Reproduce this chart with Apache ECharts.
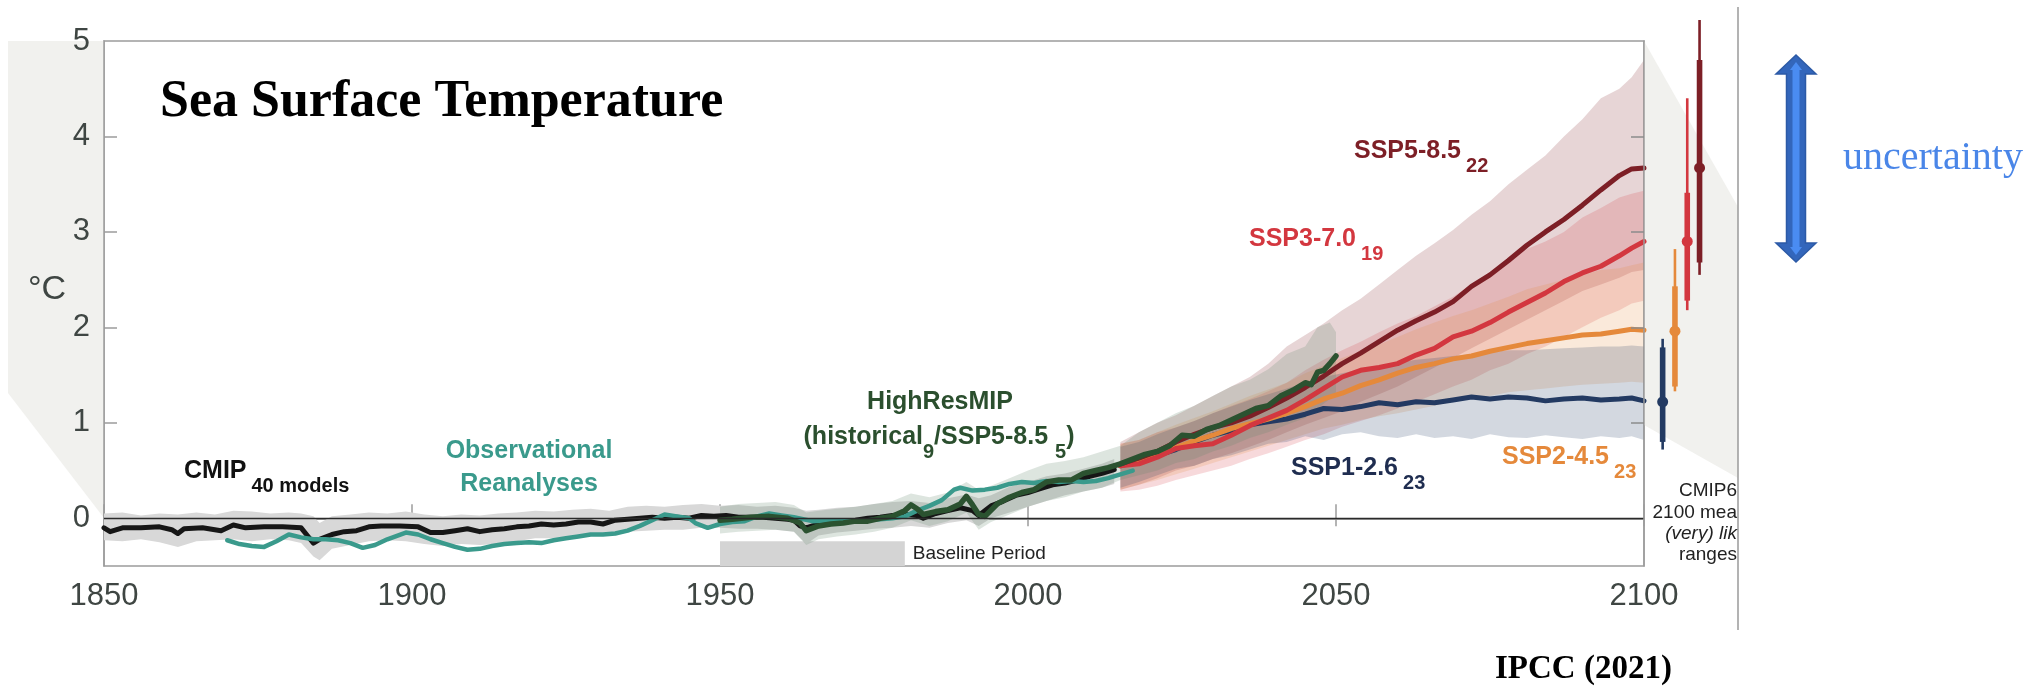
<!DOCTYPE html>
<html>
	<head>
		<meta charset="UTF-8">
		<title>Sea Surface Temperature</title>
		<script src="https://cdn.jsdelivr.net/npm/echarts@6/dist/echarts.min.js"></script>
		<style>
			body { margin: 0; background: #fff; }
			#sst { width: 2044px; height: 691px; }
		</style>
	</head>
	<body>
		<div id="sst"></div>
		<script>
			// axis ticks
			var xTicks = [1850, 1900, 1950, 2000, 2050, 2100];
			var yTicks = [0, 1, 2, 3, 4, 5];

			// CMIP6 historical multi-model mean and spread
			var cmipYears = [1850,1851,1853,1856,1859,1861,1862,1863,1866,1869,1871,1873,1876,1879,1882,1883,1884,1885,1887,1889,1891,1893,1895,1898,1901,1903,1905,1907,1909,1911,1913,1915,1917,1919,1921,1923,1925,1927,1929,1931,1933,1935,1937,1939,1941,1943,1945,1947,1949,1951,1953,1955,1957,1959,1961,1962,1963,1964,1966,1968,1970,1972,1974,1976,1978,1980,1982,1983,1985,1987,1989,1991,1992,1994,1996,1998,2000,2002,2004,2006,2008,2010,2012,2014];
			var cmipMean = [-0.10,-0.14,-0.10,-0.10,-0.09,-0.12,-0.16,-0.11,-0.10,-0.13,-0.07,-0.10,-0.09,-0.09,-0.10,-0.18,-0.26,-0.22,-0.17,-0.14,-0.13,-0.09,-0.08,-0.08,-0.09,-0.15,-0.15,-0.13,-0.11,-0.14,-0.12,-0.11,-0.09,-0.08,-0.06,-0.07,-0.06,-0.04,-0.04,-0.06,-0.02,-0.01,0.00,0.01,0.00,0.01,0.00,0.03,0.02,0.03,0.01,0.01,0.01,0.00,-0.01,-0.02,-0.08,-0.10,-0.06,-0.04,-0.03,-0.02,0.00,0.01,0.03,0.04,0.03,0.00,0.05,0.08,0.11,0.08,0.03,0.13,0.18,0.24,0.27,0.31,0.35,0.37,0.40,0.44,0.47,0.51];
			var cmipBandYears = [1850,1853,1856,1859,1862,1865,1868,1871,1874,1877,1880,1882,1884,1885,1887,1890,1893,1896,1899,1902,1905,1908,1911,1914,1917,1920,1923,1926,1929,1932,1935,1938,1941,1944,1947,1950,1953,1956,1959,1962,1964,1966,1969,1972,1975,1978,1981,1984,1987,1990,1992,1994,1997,2000,2003,2006,2009,2012,2014];
			var cmipBandHi = [0.05,0.06,0.03,0.05,0.04,0.06,0.04,0.08,0.07,0.05,0.06,0.05,0.02,-0.05,0.02,0.04,0.06,0.05,0.07,0.04,0.02,0.04,0.03,0.05,0.06,0.08,0.07,0.09,0.10,0.08,0.12,0.13,0.12,0.14,0.15,0.13,0.14,0.12,0.13,0.11,0.08,0.09,0.11,0.12,0.15,0.17,0.18,0.16,0.21,0.25,0.21,0.24,0.33,0.38,0.44,0.47,0.52,0.57,0.62];
			var cmipBandLo = [-0.23,-0.24,-0.22,-0.25,-0.30,-0.24,-0.23,-0.22,-0.24,-0.22,-0.23,-0.26,-0.40,-0.44,-0.32,-0.28,-0.24,-0.23,-0.24,-0.27,-0.29,-0.27,-0.28,-0.27,-0.24,-0.21,-0.21,-0.19,-0.17,-0.18,-0.14,-0.13,-0.12,-0.12,-0.10,-0.10,-0.11,-0.11,-0.12,-0.14,-0.27,-0.18,-0.15,-0.13,-0.11,-0.10,-0.08,-0.10,-0.05,-0.02,-0.08,0.00,0.06,0.12,0.18,0.24,0.28,0.32,0.36];

			// observational reanalyses
			var obsYears = [1870,1872,1874,1876,1878,1880,1882,1884,1886,1888,1890,1892,1894,1896,1899,1901,1903,1905,1907,1909,1911,1913,1915,1917,1919,1921,1923,1925,1927,1929,1931,1933,1935,1937,1939,1941,1943,1945,1946,1948,1950,1952,1954,1956,1958,1960,1962,1965,1968,1970,1972,1974,1976,1978,1980,1982,1984,1986,1988,1989,1991,1993,1995,1997,1999,2001,2003,2005,2007,2009,2011,2013,2015,2017];
			var obsMean = [-0.23,-0.27,-0.29,-0.30,-0.24,-0.17,-0.20,-0.22,-0.22,-0.23,-0.26,-0.31,-0.28,-0.22,-0.15,-0.17,-0.22,-0.26,-0.30,-0.33,-0.32,-0.29,-0.27,-0.26,-0.25,-0.26,-0.23,-0.21,-0.19,-0.17,-0.17,-0.16,-0.13,-0.08,-0.02,0.04,0.02,0.00,-0.05,-0.10,-0.06,-0.04,-0.03,0.02,0.05,0.03,0.01,-0.03,-0.02,-0.03,-0.03,-0.02,-0.01,0.00,0.02,0.08,0.13,0.19,0.30,0.32,0.29,0.30,0.32,0.36,0.38,0.37,0.39,0.38,0.39,0.38,0.39,0.42,0.46,0.50];

			// HighResMIP historical / SSP5-8.5
			var hrYears = [1950,1952,1955,1958,1961,1963,1964,1966,1968,1970,1972,1974,1976,1978,1980,1981,1982,1983,1985,1987,1989,1990,1991,1992,1993,1995,1997,1999,2001,2003,2005,2007,2009,2011,2013,2015,2017,2019,2021,2023,2025,2027,2029,2031,2033,2035,2037,2039,2041,2043,2045,2046,2047,2048,2049,2050];
			var hrMean = [-0.02,-0.01,0.01,0.02,0.00,-0.05,-0.13,-0.08,-0.06,-0.05,-0.03,-0.03,0.00,0.02,0.08,0.14,0.10,0.04,0.07,0.09,0.15,0.23,0.14,0.04,0.02,0.15,0.22,0.27,0.30,0.38,0.40,0.40,0.47,0.50,0.53,0.57,0.62,0.67,0.70,0.76,0.87,0.86,0.93,0.97,1.03,1.09,1.15,1.18,1.28,1.34,1.42,1.40,1.53,1.55,1.62,1.70];
			var hrBandYears = [1950,1953,1956,1959,1962,1964,1966,1969,1972,1975,1978,1981,1984,1987,1990,1992,1994,1997,2000,2003,2006,2009,2012,2015,2018,2021,2024,2027,2030,2033,2036,2039,2042,2045,2047,2049,2050];
			var hrBandHi = [0.12,0.15,0.16,0.17,0.14,0.06,0.08,0.10,0.12,0.15,0.18,0.26,0.22,0.27,0.38,0.30,0.34,0.42,0.50,0.57,0.60,0.64,0.70,0.76,0.90,1.00,1.10,1.18,1.28,1.38,1.45,1.56,1.72,1.80,2.00,2.05,1.95];
			var hrBandLo = [-0.16,-0.14,-0.13,-0.12,-0.14,-0.28,-0.22,-0.19,-0.17,-0.14,-0.10,-0.02,-0.08,-0.03,0.06,-0.12,-0.04,0.04,0.12,0.18,0.22,0.28,0.32,0.40,0.45,0.50,0.58,0.62,0.70,0.76,0.84,0.90,0.98,1.05,1.15,1.25,1.32];

			// SSP projections 2015-2100
			var sspYears = [2015,2018,2021,2024,2027,2030,2033,2036,2039,2042,2045,2048,2051,2054,2057,2060,2063,2066,2069,2072,2075,2078,2081,2084,2087,2090,2093,2096,2098,2100];
			var ssp585 = [0.57,0.63,0.70,0.80,0.88,0.95,1.00,1.07,1.16,1.26,1.37,1.49,1.62,1.73,1.85,1.97,2.07,2.16,2.27,2.43,2.55,2.70,2.86,3.00,3.13,3.28,3.44,3.59,3.66,3.67];
			var ssp585Hi = [0.80,0.90,1.00,1.08,1.18,1.28,1.38,1.48,1.62,1.80,1.92,2.04,2.18,2.30,2.45,2.60,2.75,2.88,3.02,3.18,3.32,3.50,3.65,3.80,4.00,4.18,4.40,4.50,4.62,4.80];
			var ssp585Lo = [0.30,0.35,0.42,0.50,0.55,0.62,0.68,0.75,0.82,0.90,0.98,1.05,1.12,1.22,1.30,1.38,1.48,1.58,1.68,1.78,1.88,1.98,2.08,2.18,2.28,2.38,2.45,2.52,2.58,2.60];
			var ssp370 = [0.55,0.57,0.64,0.73,0.76,0.78,0.87,0.97,1.05,1.13,1.24,1.36,1.48,1.55,1.58,1.62,1.71,1.78,1.90,1.96,2.05,2.16,2.26,2.36,2.48,2.57,2.64,2.75,2.83,2.90];
			var ssp370Hi = [0.78,0.82,0.90,0.95,1.02,1.10,1.18,1.25,1.33,1.42,1.55,1.66,1.76,1.85,1.95,2.04,2.12,2.22,2.32,2.45,2.58,2.72,2.82,2.90,3.00,3.15,3.25,3.36,3.40,3.43];
			var ssp370Lo = [0.28,0.30,0.34,0.40,0.45,0.50,0.55,0.62,0.68,0.75,0.82,0.88,0.96,1.02,1.08,1.15,1.22,1.30,1.38,1.45,1.55,1.62,1.72,1.80,1.90,2.00,2.10,2.18,2.25,2.28];
			var ssp245 = [0.55,0.60,0.66,0.74,0.81,0.87,0.94,0.99,1.04,1.10,1.17,1.25,1.31,1.39,1.45,1.52,1.58,1.62,1.67,1.70,1.75,1.79,1.83,1.86,1.89,1.92,1.93,1.96,1.98,1.97];
			var ssp245Hi = [0.78,0.82,0.90,0.98,1.05,1.12,1.20,1.28,1.35,1.42,1.52,1.60,1.68,1.75,1.82,1.90,1.98,2.05,2.12,2.18,2.25,2.32,2.40,2.45,2.50,2.55,2.60,2.62,2.65,2.68];
			var ssp245Lo = [0.30,0.35,0.40,0.46,0.52,0.58,0.64,0.70,0.76,0.82,0.88,0.94,0.98,1.03,1.07,1.10,1.14,1.18,1.22,1.26,1.28,1.32,1.34,1.36,1.38,1.40,1.41,1.42,1.43,1.42];
			var ssp126 = [0.55,0.60,0.66,0.72,0.80,0.87,0.92,0.98,1.01,1.04,1.09,1.15,1.14,1.17,1.21,1.19,1.22,1.21,1.24,1.27,1.25,1.27,1.26,1.23,1.25,1.26,1.24,1.25,1.26,1.23];
			var ssp126Hi = [0.75,0.80,0.88,0.95,1.02,1.10,1.17,1.24,1.30,1.36,1.42,1.48,1.52,1.56,1.60,1.63,1.66,1.68,1.70,1.72,1.74,1.76,1.76,1.77,1.78,1.79,1.80,1.80,1.81,1.80];
			var ssp126Lo = [0.32,0.38,0.45,0.52,0.55,0.62,0.66,0.72,0.78,0.80,0.86,0.82,0.88,0.90,0.86,0.84,0.88,0.84,0.86,0.83,0.88,0.85,0.84,0.87,0.85,0.83,0.86,0.84,0.86,0.82];

			// 2100 mean and (very) likely ranges
			var sspNames = ['SSP1-2.6', 'SSP2-4.5', 'SSP3-7.0', 'SSP5-8.5'];
			var mean2100 = [1.22, 1.96, 2.90, 3.67];
			var likelyLo = [0.80, 1.38, 2.28, 2.68];
			var likelyHi = [1.79, 2.43, 3.41, 4.80];
			var veryLo = [0.72, 1.33, 2.18, 2.55];
			var veryHi = [1.88, 2.82, 4.40, 5.22];

			var baselineStart = 1950, baselineEnd = 1980;

			var sans = 'Liberation Sans, Arial, sans-serif';
			var serif = 'Liberation Serif, Times New Roman, serif';
			var sspColors = ['#233a62', '#e5893b', '#d3373f', '#7d1f26'];

			function pairs(xs, ys) {
				return xs.map(function (x, i) { return [x, ys[i]]; });
			}

			// shaded range drawn as one polygon through the axes
			function bandSeries(years, lo, hi, color) {
				return {
					type: 'custom', silent: true, clip: true,
					data: years.map(function (y, i) { return [y, lo[i], hi[i]]; }),
					renderItem: function (params, api) {
						if (params.dataIndex !== 0) return;
						var pts = [], i;
						for (i = 0; i < years.length; i++) pts.push(api.coord([years[i], hi[i]]));
						for (i = years.length - 1; i >= 0; i--) pts.push(api.coord([years[i], lo[i]]));
						return { type: 'polygon', shape: { points: pts }, style: { fill: color } };
					}
				};
			}

			function lineSeries(years, vals, color, width) {
				return {
					type: 'line', silent: true, symbol: 'none',
					data: pairs(years, vals),
					lineStyle: { color: color, width: width, join: 'round', cap: 'round' }
				};
			}

			function plainText(x, y, text, font, color, align) {
				return {
					type: 'text', x: x, y: y, z: 50,
					style: { text: text, font: font, fill: color, align: align || 'left', verticalAlign: 'middle' }
				};
			}

			// bold label with subscripts, pieces laid out by measured width
			var measure = document.createElement('canvas').getContext('2d');
			function subLabel(x, capMid, parts, color, align) {
				var mainFont = 'bold 25px ' + sans, subFont = 'bold 20px ' + sans;
				var widths = parts.map(function (p) {
					measure.font = p[1] === 's' ? subFont : mainFont;
					return measure.measureText(p[0]).width + (p[2] || 0);
				});
				var total = widths.reduce(function (a, b) { return a + b; }, 0);
				var cx = align === 'center' ? x - total / 2 : x;
				return parts.map(function (p, i) {
					var sub = p[1] === 's';
					var el = plainText(cx + (p[2] || 0), capMid + (sub ? 15 : 0), p[0], sub ? subFont : mainFont, color);
					cx += widths[i];
					return el;
				});
			}

			var chart = echarts.init(document.getElementById('sst'));

			var labels = [].concat(
				subLabel(184, 471, [['CMIP', 'm'], ['40 models', 's', 5]], '#111'),
				subLabel(939, 437, [['(historical', 'm'], ['9', 's'], ['/SSP5-8.5 ', 'm'], ['5', 's'], [')', 'm']], '#2b4f2e', 'center'),
				subLabel(1354, 151, [['SSP5-8.5', 'm'], ['22', 's', 5]], '#7d1f26'),
				subLabel(1249, 239, [['SSP3-7.0', 'm'], ['19', 's', 5]], '#d3373f'),
				subLabel(1291, 468, [['SSP1-2.6', 'm'], ['23', 's', 5]], '#1f2d50'),
				subLabel(1502, 457, [['SSP2-4.5', 'm'], ['23', 's', 5]], '#e5893b')
			);

			var option = {
				animation: false,
				backgroundColor: '#fff',
				grid: [
					{ left: 104, top: 41, width: 1540, height: 525, show: true, borderColor: '#9c9c9c', borderWidth: 1.5 },
					{ left: 1656.5, top: 41, width: 49.2, height: 525 }
				],
				xAxis: [
					{
						type: 'value', gridIndex: 0, min: xTicks[0], max: xTicks[xTicks.length - 1], interval: 50,
						axisLine: { lineStyle: { color: '#9c9c9c', width: 1.5 } },
						axisTick: { inside: true, length: 14, lineStyle: { color: '#9c9c9c', width: 1.5 } },
						axisLabel: { fontFamily: sans, fontSize: 31, color: '#3f4643', margin: 15, formatter: function (v) { return String(v); } },
						splitLine: { show: false }
					},
					{
						type: 'value', gridIndex: 0, position: 'top', min: xTicks[0], max: xTicks[xTicks.length - 1], interval: 50,
						axisLine: { lineStyle: { color: '#9c9c9c', width: 1.5 } },
						axisTick: { inside: true, length: 8, lineStyle: { color: '#9c9c9c', width: 1.5 } },
						axisLabel: { show: false },
						splitLine: { show: false }
					},
					{ type: 'category', gridIndex: 1, data: sspNames, show: false }
				],
				yAxis: [
					{
						type: 'value', gridIndex: 0, min: -0.5, max: 5,
						axisLine: { show: true, lineStyle: { color: '#9c9c9c', width: 1.5 } },
						axisTick: { show: true, inside: true, length: 13, customValues: [1, 2, 3, 4], lineStyle: { color: '#9c9c9c', width: 1.5 } },
						axisLabel: { customValues: yTicks, fontFamily: sans, fontSize: 31, color: '#3f4643', margin: 14 },
						splitLine: { show: false }
					},
					{
						type: 'value', gridIndex: 0, position: 'right', min: -0.5, max: 5, z: 10,
						axisLine: { show: true, lineStyle: { color: '#9c9c9c', width: 1.5 } },
						axisTick: { show: true, inside: true, length: 13, customValues: [1, 2, 3, 4], lineStyle: { color: '#8c8c8c', width: 1.5 } },
						axisLabel: { show: false },
						splitLine: { show: false }
					},
					{ type: 'value', gridIndex: 1, min: -0.5, max: 5, show: false }
				],
				series: [
					// historical spread, zero line and baseline period
					Object.assign(bandSeries(cmipBandYears, cmipBandLo, cmipBandHi, '#d8d8d8'), {
						markLine: {
							silent: true, symbol: ['none', 'none'], label: { show: false },
							lineStyle: { color: '#2a2a2a', width: 1.3, type: 'solid' },
							data: [{ yAxis: 0 }]
						},
						markArea: {
							silent: true,
							itemStyle: { color: '#d4d4d4' },
							label: { show: true, position: 'right', distance: 8, formatter: 'Baseline Period', fontFamily: sans, fontSize: 19, color: '#222' },
							data: [[{ xAxis: baselineStart, yAxis: -0.5 }, { xAxis: baselineEnd, yAxis: -0.24 }]]
						}
					}),
					lineSeries(cmipYears, cmipMean, '#161616', 5),
					lineSeries(obsYears, obsMean, '#3a9a8c', 4.5),
					bandSeries(sspYears, ssp585Lo, ssp585Hi, 'rgba(125,31,38,0.19)'),
					bandSeries(sspYears, ssp370Lo, ssp370Hi, 'rgba(211,55,63,0.19)'),
					bandSeries(sspYears, ssp245Lo, ssp245Hi, 'rgba(229,137,59,0.19)'),
					bandSeries(sspYears, ssp126Lo, ssp126Hi, 'rgba(35,58,98,0.2)'),
					bandSeries(hrBandYears, hrBandLo, hrBandHi, 'rgba(100,135,110,0.22)'),
					lineSeries(sspYears, ssp126, sspColors[0], 5),
					lineSeries(sspYears, ssp245, sspColors[1], 5),
					lineSeries(sspYears, ssp370, sspColors[2], 5),
					lineSeries(sspYears, ssp585, sspColors[3], 5),
					lineSeries(hrYears, hrMean, '#2b5230', 5.5),
					// 2100 ranges beside the plot
					{
						type: 'custom', xAxisIndex: 2, yAxisIndex: 2, clip: false, silent: true,
						data: sspNames.map(function (n, i) { return [i, veryLo[i], likelyLo[i], mean2100[i], likelyHi[i], veryHi[i]]; }),
						renderItem: function (params, api) {
							var c = api.value(0);
							var vl = api.coord([c, api.value(1)]), ll = api.coord([c, api.value(2)]);
							var m = api.coord([c, api.value(3)]);
							var lh = api.coord([c, api.value(4)]), vh = api.coord([c, api.value(5)]);
							var col = sspColors[params.dataIndex];
							return {
								type: 'group', children: [
									{ type: 'rect', shape: { x: m[0] - 1.3, y: vh[1], width: 2.6, height: vl[1] - vh[1] }, style: { fill: col } },
									{ type: 'rect', shape: { x: m[0] - 2.8, y: lh[1], width: 5.6, height: ll[1] - lh[1] }, style: { fill: col } },
									{ type: 'circle', shape: { cx: m[0], cy: m[1], r: 5.5 }, style: { fill: col } }
								]
							};
						}
					}
				],
				graphic: [
					// grey panels either side of the plot
					{ type: 'polygon', z: 0, shape: { points: [[8, 41], [104, 41], [104, 518], [8, 393]] }, style: { fill: '#f1f1ee' } },
					{ type: 'polygon', z: 0, shape: { points: [[1644, 41], [1738, 207], [1738, 478], [1644, 425]] }, style: { fill: '#f1f1ee' } },
					{ type: 'line', z: 1, shape: { x1: 1738, y1: 7, x2: 1738, y2: 630 }, style: { stroke: '#9a9a9a', lineWidth: 1.5 } },
					// uncertainty arrow
					{ type: 'polygon', z: 5, shape: { points: [[1796, 55], [1816, 74], [1805.5, 74], [1805.5, 243], [1816, 243], [1796, 262], [1776, 243], [1786.5, 243], [1786.5, 74], [1776, 74]] }, style: { fill: '#3366bb', stroke: '#2c5aa6', lineWidth: 1.5 } },
					{ type: 'polygon', z: 6, shape: { points: [[1796, 62], [1802, 70], [1799.5, 70], [1799.5, 247], [1802, 247], [1796, 255], [1790, 247], [1792.5, 247], [1792.5, 70], [1790, 70]] }, style: { fill: '#4a8cf2' } },
					plainText(1843, 158, 'uncertainty', '40px ' + serif, '#4a86e8'),
					plainText(160, 103, 'Sea Surface Temperature', 'bold 52px ' + serif, '#000'),
					plainText(1495, 669, 'IPCC (2021)', 'bold 33px ' + serif, '#000'),
					plainText(47, 290, '°C', '34px ' + sans, '#3f4643', 'center'),
					{
						type: 'text', x: 529, y: 467.5, z: 50,
						style: { text: 'Observational\nReanalyses', fontFamily: sans, fontSize: 25, fontWeight: 'bold', lineHeight: 33, fill: '#3a9a8c', align: 'center', verticalAlign: 'middle' }
					},
					plainText(940, 402, 'HighResMIP', 'bold 25px ' + sans, '#2b4f2e', 'center'),
					// side panel caption, cut by the frame as in the source
					plainText(1737, 491, 'CMIP6', '19px ' + sans, '#222', 'right'),
					plainText(1737, 513, '2100 mea', '19px ' + sans, '#222', 'right'),
					plainText(1737, 534, '(very) lik', 'italic 19px ' + sans, '#222', 'right'),
					plainText(1737, 555, 'ranges', '19px ' + sans, '#222', 'right')
				].concat(labels)
			};

			chart.setOption(option);
		</script>
	</body>
</html>
